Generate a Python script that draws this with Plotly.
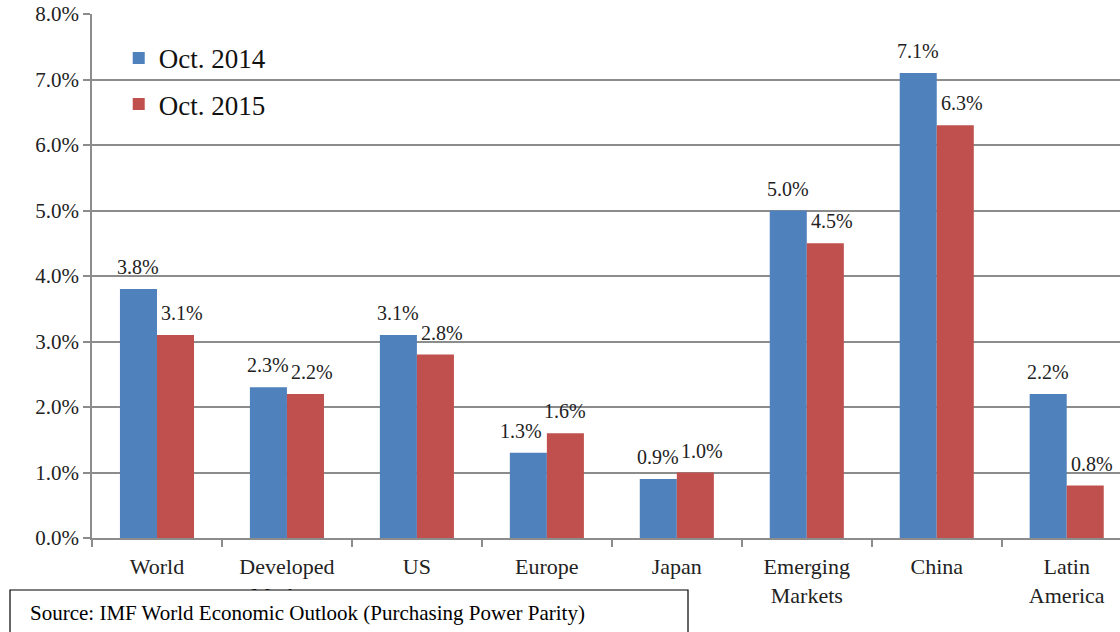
import plotly.graph_objects as go

categories = ["World", "Developed<br>Markets", "US", "Europe", "Japan",
              "Emerging<br>Markets", "China", "Latin<br>America"]
oct_2014 = [3.8, 2.3, 3.1, 1.3, 0.9, 5.0, 7.1, 2.2]
oct_2015 = [3.1, 2.2, 2.8, 1.6, 1.0, 4.5, 6.3, 0.8]
series_names = ["Oct. 2014", "Oct. 2015"]
y_ticks = [0, 1, 2, 3, 4, 5, 6, 7, 8]

serif = "Liberation Serif"
colors = ["#4F81BD", "#C0504D"]
bar_px = 37  # approx pixel width of one bar, used to centre labels over bars
label_dx = [0, 7]  # small horizontal nudge of labels per series
europe_nudge = [-7, -7]  # the Europe labels sit closer together in the original

fig = go.Figure()
for i, (name, vals) in enumerate(zip(series_names, [oct_2014, oct_2015])):
    fig.add_trace(go.Bar(
        name=name,
        x=categories,
        y=vals,
        marker=dict(color=colors[i], line=dict(width=0)),
        legendgroup=name,
    ))
    side = -0.5 if i == 0 else 0.5
    for cat, v in zip(categories, vals):
        dx = side * bar_px + label_dx[i]
        if cat == "Europe":
            dx += europe_nudge[i]
        fig.add_annotation(
            x=cat, y=v, text=f"{v:.1f}%", showarrow=False,
            yanchor="bottom", yshift=9, xshift=dx,
            font=dict(family=serif, size=20, color="#222"),
        )

fig.update_layout(
    width=1120,
    height=632,
    barmode="group",
    bargap=0.43,
    bargroupgap=0,
    plot_bgcolor="white",
    paper_bgcolor="white",
    margin=dict(l=92, r=0, t=14, b=94),
    font=dict(family=serif, color="#222"),
    legend=dict(
        x=0.026, y=0.962, xanchor="left", yanchor="top",
        font=dict(family=serif, size=27, color="#111"),
        tracegroupgap=8,
        bgcolor="rgba(0,0,0,0)",
    ),
    showlegend=True,
)

fig.update_yaxes(
    range=[0, 8],
    tickvals=y_ticks,
    ticktext=[f"{v:.1f}%" for v in y_ticks],
    showgrid=True,
    gridcolor="#8c8c8c",
    gridwidth=1.5,
    showline=True,
    linecolor="#8c8c8c",
    linewidth=1.5,
    ticks="outside",
    ticklen=7,
    tickcolor="#8c8c8c",
    tickwidth=1.5,
    tickfont=dict(family=serif, size=21, color="#222"),
    zeroline=False,
)

fig.update_xaxes(
    range=[-0.5, 7.41],
    showline=True,
    linecolor="#8c8c8c",
    linewidth=1.5,
    ticks="outside",
    ticklen=7,
    tickcolor="#8c8c8c",
    tickwidth=1.5,
    tickson="boundaries",
    ticklabelstandoff=8,
    tickfont=dict(family=serif, size=22, color="#222"),
)

# source note box
fig.add_shape(
    type="rect", xref="paper", yref="paper",
    x0=(10 - 92) / 1028, x1=(688 - 92) / 1028,
    y0=-(632 - 538 + 5) / 524, y1=-(590 - 538) / 524,
    line=dict(color="black", width=1.2), fillcolor="white", layer="above",
)
fig.add_annotation(
    text="Source: IMF World Economic Outlook (Purchasing Power Parity)",
    xref="paper", yref="paper",
    x=(28 - 92) / 1028, y=-(613 - 538) / 524,
    xanchor="left", yanchor="middle", showarrow=False,
    font=dict(family=serif, size=21, color="black"),
)

fig.write_html("out.html", config={"displayModeBar": False},
               post_script="document.body.style.margin='0';")
